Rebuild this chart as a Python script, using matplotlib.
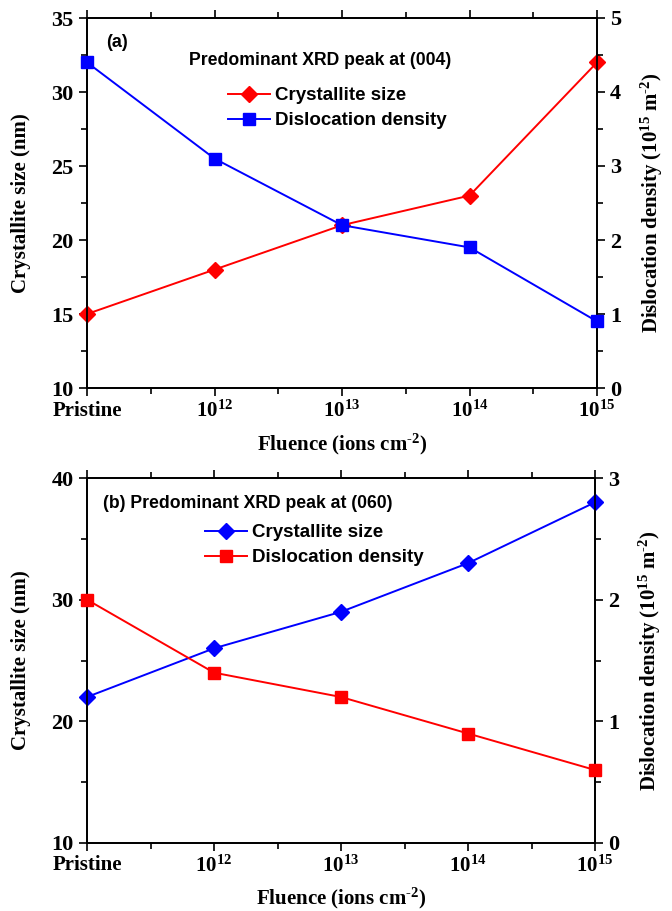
import numpy as np
import matplotlib
matplotlib.use("Agg")
import matplotlib.pyplot as plt
from matplotlib.ticker import MultipleLocator, FixedLocator

plt.rcParams['mathtext.fontset'] = 'custom'
plt.rcParams['mathtext.rm'] = 'Liberation Serif:bold'
plt.rcParams['mathtext.it'] = 'Liberation Serif:bold'
plt.rcParams['mathtext.bf'] = 'Liberation Serif:bold'

# data
fluence_labels = ['Pristine', r'$\mathregular{10^{12}}$', r'$\mathregular{10^{13}}$',
                  r'$\mathregular{10^{14}}$', r'$\mathregular{10^{15}}$']
size_004 = [15, 18, 21, 23, 32]
disl_004 = [4.4, 3.1, 2.2, 1.9, 0.9]
size_060 = [22, 26, 29, 33, 38]
disl_060 = [2.0, 1.4, 1.2, 0.9, 0.6]

serif = dict(family='Liberation Serif', weight='bold')
sans = dict(family='Liberation Sans', weight='bold')
TICK_FS = 16
LAB_FS = 15
HYPH = '\u2010'  # plain hyphen in superscripts, mathtext turns '-' into a wide minus

fig = plt.figure(figsize=(6.72, 9.11), dpi=100)
W, H = 672, 911


def px_axes(l, t, r, b):
    return fig.add_axes([l / W, 1 - b / H, (r - l) / W, (b - t) / H])


def style_axes(ax, ax2, ylim, y2lim, ymaj, ymin, y2maj, y2min):
    x = np.arange(len(fluence_labels))
    ax.set_xlim(0, len(x) - 1)
    ax.set_ylim(*ylim)
    ax2.set_ylim(*y2lim)
    ax.xaxis.set_major_locator(FixedLocator(x))
    ax.xaxis.set_minor_locator(FixedLocator(x[:-1] + 0.5))
    ax.set_xticklabels(fluence_labels)
    ax.yaxis.set_major_locator(MultipleLocator(ymaj))
    ax.yaxis.set_minor_locator(MultipleLocator(ymin))
    ax2.yaxis.set_major_locator(MultipleLocator(y2maj))
    ax2.yaxis.set_minor_locator(MultipleLocator(y2min))
    for a in (ax, ax2):
        a.tick_params(which='major', direction='out', length=6, width=1.2, labelsize=TICK_FS)
        a.tick_params(which='minor', direction='out', length=4, width=1.2)
        for s in a.spines.values():
            s.set_linewidth(1.3)
        for lab in a.get_xticklabels() + a.get_yticklabels():
            lab.set_fontfamily('Liberation Serif')
            lab.set_fontweight('bold')
    ax.tick_params(axis='x', which='both', top=True)
    ax.tick_params(axis='x', which='major', pad=3, labelsize=15)
    ax.tick_params(axis='x', which='minor', top=True, length=4)
    ax.set_xlabel('Fluence (ions cm$^{\\mathregular{' + HYPH + '2}}$)', fontsize=LAB_FS, **serif)
    ax.set_ylabel('Crystallite size (nm)', fontsize=LAB_FS, **serif)
    ax2.set_ylabel('Dislocation density (10$^{\\mathregular{15}}$ m$^{\\mathregular{' + HYPH + '2}}$)',
                   fontsize=LAB_FS, **serif)


x = np.arange(len(fluence_labels))

# panel (a)
ax = px_axes(87, 18, 597, 388)
ax2 = ax.twinx()
l1, = ax.plot(x, size_004, color='red', marker='D', ms=8, lw=1.4, clip_on=False, zorder=5)
l2, = ax2.plot(x, disl_004, color='blue', marker='s', ms=8, lw=1.4, clip_on=False, zorder=5)
style_axes(ax, ax2, (10, 35), (0, 5), 5, 2.5, 1, 0.5)
ax.xaxis.set_label_coords(0.5, -0.118)
ax.yaxis.set_label_coords(-0.11, 0.5)
ax2.yaxis.set_label_coords(1.082, 0.5)
ax.text(0.038, 0.935, '(a)', transform=ax.transAxes, fontsize=13, va='center', **sans)
ax.text(0.458, 0.886, 'Predominant XRD peak at (004)', transform=ax.transAxes,
        fontsize=12.7, ha='center', va='center', **sans)
ax.legend([l1, l2], ['Crystallite size', 'Dislocation density'], loc='upper left',
          bbox_to_anchor=(0.277, 0.813), frameon=False, borderpad=0, borderaxespad=0,
          handlelength=2.2, handletextpad=0.3, labelspacing=0.42,
          prop=dict(family='Liberation Sans', weight='bold', size=13.5))

# panel (b)
bx = px_axes(87, 478, 595, 843)
bx2 = bx.twinx()
m1, = bx.plot(x, size_060, color='blue', marker='D', ms=8, lw=1.4, clip_on=False, zorder=5)
m2, = bx2.plot(x, disl_060, color='red', marker='s', ms=8, lw=1.4, clip_on=False, zorder=5)
style_axes(bx, bx2, (10, 40), (0, 3), 10, 5, 1, 0.5)
bx.xaxis.set_label_coords(0.5, -0.118)
bx.yaxis.set_label_coords(-0.11, 0.5)
bx2.yaxis.set_label_coords(1.083, 0.5)
bx.text(0.032, 0.929, '(b) Predominant XRD peak at (060)', transform=bx.transAxes,
        fontsize=12.7, va='center', **sans)
bx.legend([m1, m2], ['Crystallite size', 'Dislocation density'], loc='upper left',
          bbox_to_anchor=(0.233, 0.874), frameon=False, borderpad=0, borderaxespad=0,
          handlelength=2.2, handletextpad=0.3, labelspacing=0.42,
          prop=dict(family='Liberation Sans', weight='bold', size=13.5))

fig.savefig('out.png', dpi=100)
